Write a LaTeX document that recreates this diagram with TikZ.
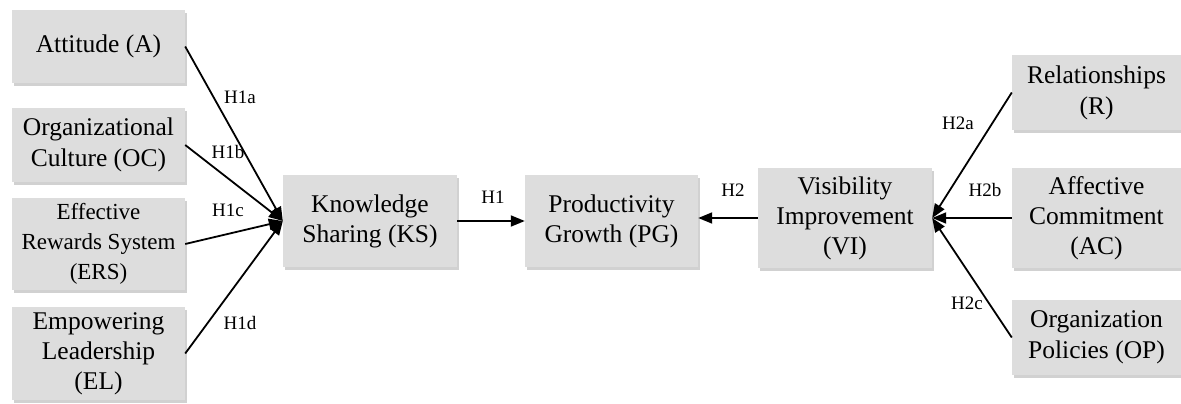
\documentclass[tikz,border=0pt]{standalone}
\usepackage{fontspec}
\setmainfont{Liberation Serif}
\usetikzlibrary{arrows.meta,shadows}
\definecolor{boxgray}{RGB}{221,221,221}
\tikzset{
  box/.style={draw=none, fill=boxgray, align=center, inner sep=0pt,
    font=\fontsize{25.5}{31}\selectfont,
    drop shadow={shadow xshift=2pt, shadow yshift=-3pt, fill=black, opacity=0.18}},
  hyp/.style={font=\fontsize{19}{22}\selectfont, inner sep=0pt},
  link/.style={line width=1.8pt, -{Triangle[length=14pt,width=11pt]}}
}
\begin{document}
\begin{tikzpicture}[x=1pt,y=-1pt]
\useasboundingbox (0,0) rectangle (1181,404);
% left column
\node[box, minimum width=173pt, minimum height=73pt] (A) at (98.5,46.5) {Attitude (A)};
\node[box, minimum width=173pt, minimum height=74pt] (OC) at (98.5,145) {Organizational\\Culture (OC)};
\node[box, minimum width=173pt, minimum height=92pt, font=\fontsize{23}{30}\selectfont] (ERS) at (98.5,244) {Effective\\Rewards System\\(ERS)};
\node[box, minimum width=173pt, minimum height=93pt, font=\fontsize{25.5}{30}\selectfont] (EL) at (98.5,353.5) {Empowering\\Leadership\\(EL)};
% middle
\node[box, minimum width=174pt, minimum height=92pt, font=\fontsize{25.5}{30}\selectfont] (KS) at (370,221) {Knowledge\\Sharing (KS)};
\node[box, minimum width=173pt, minimum height=92pt, font=\fontsize{25.5}{30}\selectfont] (PG) at (611.5,221) {Productivity\\Growth (PG)};
\node[box, minimum width=174pt, minimum height=100pt, font=\fontsize{25.5}{30}\selectfont] (VI) at (845,218) {Visibility\\Improvement\\(VI)};
% right column
\node[box, minimum width=169pt, minimum height=75pt] (R) at (1096.5,92.5) {Relationships\\(R)};
\node[box, minimum width=169pt, minimum height=100pt, font=\fontsize{25.5}{30}\selectfont] (AC) at (1096.5,218) {Affective\\Commitment\\(AC)};
\node[box, minimum width=169pt, minimum height=75pt] (OP) at (1096.5,337.5) {Organization\\Policies (OP)};
% connectors
\draw[link] (A.east) -- (KS.west);
\draw[link] (OC.east) -- (KS.west);
\draw[link] (ERS.east) -- (KS.west);
\draw[link] (EL.east) -- (KS.west);
\draw[link] (KS.east) -- (PG.west);
\draw[link] (VI.west) -- (VI.west -| PG.east);
\draw[link] (R.west) -- (VI.east);
\draw[link] (AC.west) -- (VI.east);
\draw[link] (OP.west) -- (VI.east);
% labels
\node[hyp] (h1a) at (240,97) {H1a};
\node[hyp] (h1b) at (228,152) {H1b};
\node[hyp] (h1c) at (228,210) {H1c};
\node[hyp] (h1d) at (240,323) {H1d};
\node[hyp] (h1) at (493,197) {H1};
\node[hyp] (h2) at (733,190) {H2};
\node[hyp] (h2a) at (958,123) {H2a};
\node[hyp] (h2b) at (985,190) {H2b};
\node[hyp] (h2c) at (967,303) {H2c};
\end{tikzpicture}
\end{document}
